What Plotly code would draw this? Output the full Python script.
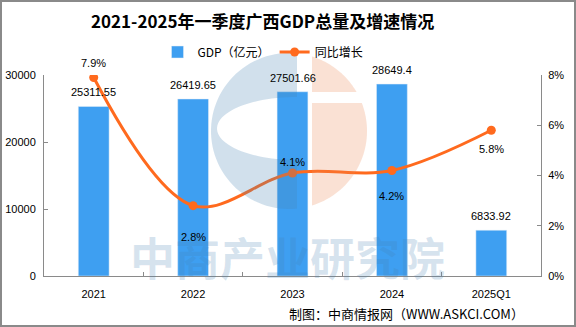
import numpy as np
import plotly.graph_objects as go

categories = ["2021", "2022", "2023", "2024", "2025Q1"]
gdp = [25311.55, 26419.65, 27501.66, 28649.4, 6833.92]
growth = [7.9, 2.8, 4.1, 4.2, 5.8]
gdp_labels = ["25311.55", "26419.65", "27501.66", "28649.4", "6833.92"]
growth_labels = ["7.9%", "2.8%", "4.1%", "4.2%", "5.8%"]
label_shift = [15, -31, 11, -26, -19]  # style: vertical label offsets (px)

W, H = 576, 327
L, R, T, B = 44, 35, 75, 51
PW, PH = W - L - R, H - T - B

def px(x):
    return (x - L) / PW

def py(y):
    return (T + PH - y) / PH

def path(points, close=True):
    s = "M " + " L ".join(f"{px(x):.5f},{py(y):.5f}" for x, y in points)
    return s + (" Z" if close else "")

BLUE = "#3E9FF1"
ORANGE = "#FF6A1E"
TXT_FONT = "Liberation Sans, DejaVu Sans, sans-serif"
CJK = "Noto Sans CJK SC, sans-serif"

fig = go.Figure()
fig.add_trace(go.Bar(
    x=categories, y=gdp, name="GDP（亿元）", marker_color=BLUE, width=0.31,
))
fig.add_trace(go.Scatter(
    x=categories, y=growth, name="同比增长", yaxis="y2", mode="lines+markers",
    line=dict(color=ORANGE, width=3, shape="spline", smoothing=1.0),
    marker=dict(color=ORANGE, size=9),
))

for i, (v, t) in enumerate(zip(gdp, gdp_labels)):
    fig.add_annotation(x=i, y=v, xref="x", yref="y", text=t, showarrow=False,
                       xanchor="center", yanchor="middle", yshift=14,
                       font=dict(size=11, color="#000", family=TXT_FONT))

for i, (v, t, s) in enumerate(zip(growth, growth_labels, label_shift)):
    fig.add_annotation(x=i, y=v, xref="x", yref="y2", text=t, showarrow=False,
                       xanchor="center", yanchor="middle",
                       yshift=s, font=dict(size=11, color="#000", family=TXT_FONT))

# watermark logo (decoration)
cx, cy, r = 289, 131, 78
shapes = []
a = np.arccos(8 / r)
th = np.linspace(a, 2 * np.pi - a, 60)
outer = [(cx + r * np.cos(t), cy + r * np.sin(t)) for t in th]
ph = np.linspace(1.5 * np.pi, 0.5 * np.pi, 50)
inner = [(297 + 80 * np.cos(p), 128.5 + 31.5 * np.sin(p)) for p in ph]
shapes.append(dict(type="path", path=path(outer + inner), xref="paper", yref="paper",
                   fillcolor="rgba(70,130,180,0.25)", line=dict(width=0), layer="above"))
al = np.arccos(23 / r)
t1 = np.arcsin((92 - cy) / r)
up = [(312, cy - np.sqrt(r * r - 23 * 23))] + [(cx + r * np.cos(t), cy + r * np.sin(t)) for t in np.linspace(-al, t1, 30)] + [(312, 92)]
t2 = np.arcsin((103 - cy) / r)
lo = [(312, 103)] + [(cx + r * np.cos(t), cy + r * np.sin(t)) for t in np.linspace(t2, al, 40)]
for pts in (up, lo):
    shapes.append(dict(type="path", path=path(pts), xref="paper", yref="paper",
                       fillcolor="rgba(235,135,83,0.25)", line=dict(width=0), layer="above"))
# frame
e = 1
shapes.append(dict(type="path", xref="paper", yref="paper",
                   path=path([(e, e), (W - e, e), (W - e, H - e), (e, H - e)]),
                   line=dict(color="#8a8a8a", width=2), fillcolor="rgba(0,0,0,0)", layer="above"))

def note(x, y, text, size, color, family):
    fig.add_annotation(x=px(x), y=py(y), xref="paper", yref="paper", text=text,
                       showarrow=False, xanchor="center", yanchor="middle",
                       font=dict(size=size, color=color, family=family))

note(287, 256, "<b>中商产业研究院</b>", 45, "rgba(70,130,180,0.22)", CJK)
note(262, 21, "<b>2021-2025年一季度广西GDP总量及增速情况</b>", 17, "#000", CJK)
note(406, 313, "制图：中商情报网（WWW.ASKCI.COM）", 13, "#000", CJK)

axis_common = dict(showline=True, linecolor="#8a8a8a", linewidth=1, ticks="inside",
                   ticklen=4, tickcolor="#8a8a8a", showgrid=False, zeroline=False,
                   automargin=False,
                   tickfont=dict(size=11, color="#000", family=TXT_FONT))

fig.update_layout(
    width=W, height=H, margin=dict(l=L, r=R, t=T, b=B, autoexpand=False),
    paper_bgcolor="white", plot_bgcolor="white",
    shapes=shapes,
    showlegend=True,
    legend=dict(orientation="h", x=px(263), y=py(52), xanchor="center", yanchor="middle",
                font=dict(size=12, color="#000", family=CJK), bgcolor="rgba(0,0,0,0)",
                itemwidth=30, tracegroupgap=0),
    xaxis=dict(**axis_common, tickson="boundaries", range=[-0.5, 4.5], ticklabelstandoff=8),
    yaxis=dict(**axis_common, range=[0, 30000], dtick=10000, tickformat="d", ticklabelstandoff=5),
    yaxis2=dict(**axis_common, overlaying="y", side="right", range=[0, 8], dtick=2,
                ticksuffix="%", ticklabelstandoff=4),
    bargap=0.69,
)
fig.write_html("out.html")
